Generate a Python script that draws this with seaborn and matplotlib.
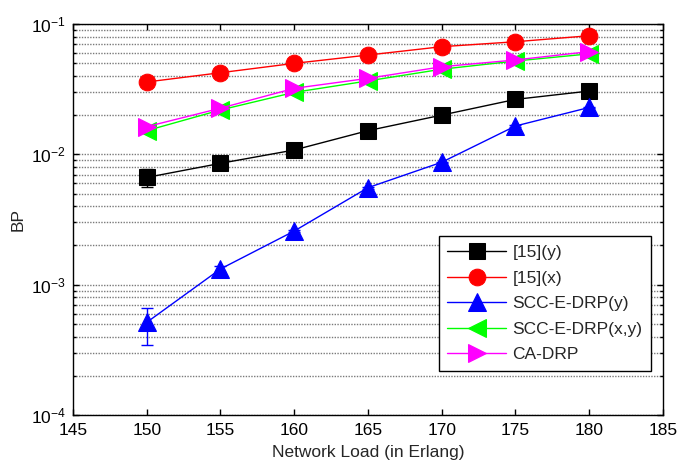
import matplotlib
matplotlib.use('Agg')
import matplotlib.pyplot as plt
import seaborn as sns
import pandas as pd
from matplotlib.ticker import LogLocator, NullFormatter

# data
load = [150, 155, 160, 165, 170, 175, 180]
bp_15y = [0.00665, 0.00853, 0.0108, 0.0152, 0.0200, 0.0264, 0.0306]
bp_15x = [0.0359, 0.0423, 0.0499, 0.0578, 0.0670, 0.0731, 0.0813]
bp_scc_y = [0.000514, 0.00132, 0.00258, 0.00555, 0.0087, 0.0165, 0.0229]
bp_scc_xy = [0.0152, 0.0219, 0.0299, 0.0366, 0.0450, 0.0520, 0.0590]
bp_cadrp = [0.0163, 0.0226, 0.0321, 0.0383, 0.0470, 0.0530, 0.0614]

# error bars visible at the first point only
err_15y_low = [0.00564, 0.0083, 0.0105, 0.0149, 0.0197, 0.0260, 0.0302]
err_15y_high = [0.0077, 0.0087, 0.0111, 0.0155, 0.0204, 0.0268, 0.0311]
err_scc_low = [0.000346, 0.00126, 0.00252, 0.00545, 0.0086, 0.0163, 0.0227]
err_scc_high = [0.00066, 0.00138, 0.00264, 0.00565, 0.0088, 0.0167, 0.0231]

labels = ['[15](y)', '[15](x)', 'SCC-E-DRP(y)', 'SCC-E-DRP(x,y)', 'CA-DRP']
colors = ['#000000', '#ff0000', '#0000ff', '#00ff00', '#ff00ff']
markers = ['s', 'o', '^', '<', '>']
sizes = [12, 12, 13, 13, 13]

sns.set_style('ticks')
plt.rcParams['font.family'] = ['Liberation Sans', 'DejaVu Sans']
plt.rcParams['mathtext.fontset'] = 'custom'
plt.rcParams['mathtext.rm'] = 'Liberation Sans'
plt.rcParams['mathtext.default'] = 'regular'
plt.rcParams['font.size'] = 12.5

df = pd.DataFrame({
    'load': load * 5,
    'bp': bp_15y + bp_15x + bp_scc_y + bp_scc_xy + bp_cadrp,
    'series': sum([[l] * len(load) for l in labels], []),
})

fig, ax = plt.subplots(figsize=(6.79, 4.68), dpi=100)
fig.subplots_adjust(left=0.1075, right=0.9764, top=0.9487, bottom=0.1132)

# error bars (drawn first, under the markers)
ax.errorbar(load, bp_15y,
            yerr=[[b - l for b, l in zip(bp_15y, err_15y_low)],
                  [h - b for b, h in zip(bp_15y, err_15y_high)]],
            fmt='none', ecolor='#000000', elinewidth=1, capsize=4, zorder=3)
ax.errorbar(load, bp_scc_y,
            yerr=[[b - l for b, l in zip(bp_scc_y, err_scc_low)],
                  [h - b for b, h in zip(bp_scc_y, err_scc_high)]],
            fmt='none', ecolor='#0000ff', elinewidth=1, capsize=4, zorder=3)

for lab, col, mk, ms in zip(labels, colors, markers, sizes):
    sub = df[df['series'] == lab]
    sns.lineplot(data=sub, x='load', y='bp', ax=ax, color=col, marker=mk,
                 markersize=ms, markeredgecolor=col, linewidth=1,
                 label=lab, zorder=4)

ax.set_yscale('log')
ax.set_xlim(145, 185)
ax.set_ylim(1e-4, 1e-1)
ax.set_xticks(range(145, 186, 5))
ax.yaxis.set_major_locator(LogLocator(base=10, numticks=10))
ax.yaxis.set_minor_locator(LogLocator(base=10, subs=range(2, 10), numticks=10))
ax.yaxis.set_minor_formatter(NullFormatter())

ax.grid(True, which='both', axis='y', color='#7a7a7a',
        linestyle=(0, (1, 1)), linewidth=1)
ax.grid(False, axis='x')

ax.tick_params(which='both', direction='in', top=True, right=True,
               labelsize=12.5, colors='black')
ax.tick_params(axis='x', which='major', pad=6)
ax.tick_params(axis='y', which='major', pad=5)
ax.tick_params(which='major', length=4, width=1)
ax.tick_params(which='minor', length=2.5, width=1)
for sp in ax.spines.values():
    sp.set_color('black')
    sp.set_linewidth(1)

ax.set_xlabel('Network Load (in Erlang)', fontsize=12.5, labelpad=5)
ax.set_ylabel('BP', fontsize=12.5, labelpad=4)

leg = ax.legend(loc='lower right', bbox_to_anchor=(0.98, 0.1125),
                borderaxespad=0, frameon=True, fancybox=False,
                edgecolor='black', framealpha=1, fontsize=12.5,
                handlelength=3.4, labelspacing=0.6, borderpad=0.5,
                handletextpad=0.35)
leg.get_frame().set_linewidth(1)

fig.savefig('out.png', dpi=100)
